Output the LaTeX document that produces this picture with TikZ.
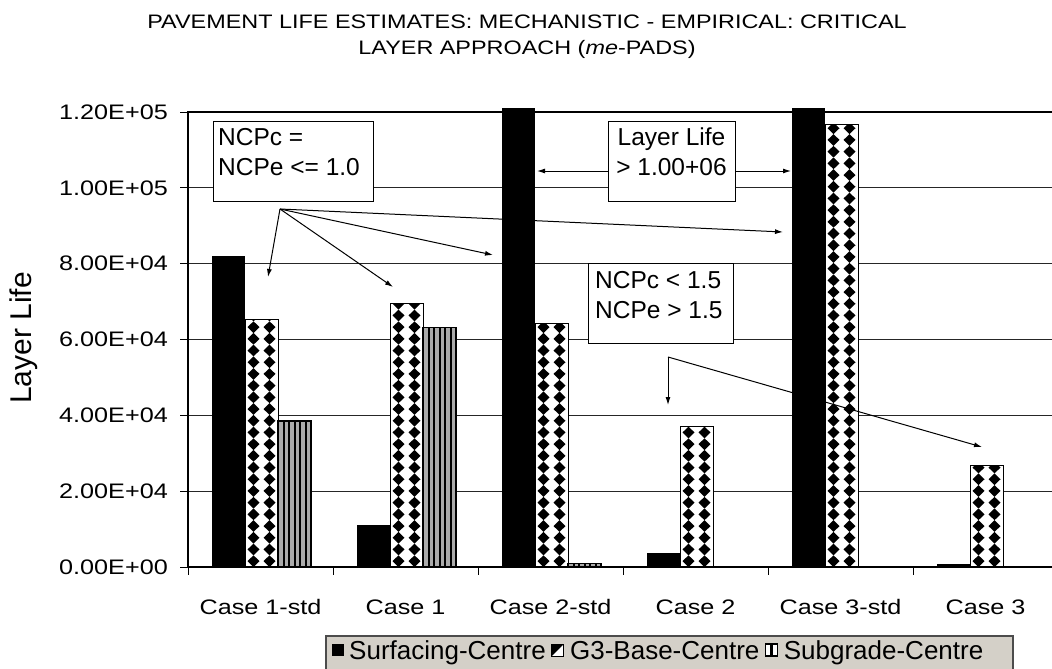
\documentclass[tikz,border=0pt]{standalone}
\usepackage{fontspec}
\newfontfamily\cfw[FakeStretch=1.2]{Liberation Sans}
\newfontfamily\cfn{Liberation Sans}
\usetikzlibrary{arrows.meta}
\definecolor{legbg}{RGB}{212,208,200}
\definecolor{stripegray}{RGB}{170,170,170}
\newcommand\blackbar[2]{\fill[black] (#1,#2) rectangle (#1+33,567);}
\newcommand\checkerbar[2]{%
  \fill[white] (#1,#2) rectangle (#1+33,567);
  \begin{scope}
    \clip (#1,#2) rectangle (#1+33,567);
    \foreach \j in {0,...,39}{\foreach \c in {8.5,24.5}{%
      \fill ({#1+\c},{567-11.7*\j}) -- ++(6,-5.85) -- ++(-6,-5.85) -- ++(-6,5.85) -- cycle;}}
  \end{scope}
  \draw[line width=1pt] (#1,#2) rectangle (#1+33,567);}
\newcommand\stripebar[2]{%
  \fill[stripegray] (#1,#2) rectangle (#1+33,567);
  \foreach \k in {1,...,5}{\draw[line width=2pt] ({#1+5.5*\k},#2) -- ({#1+5.5*\k},567);}
  \draw[line width=1.5pt] (#1,#2) rectangle (#1+33,567);}
\begin{document}
\begin{tikzpicture}[x=1pt,y=-1pt,
  title/.style={font=\cfw\fontsize{19.5}{23}\selectfont, inner sep=0pt},
  tick/.style={font=\cfw\fontsize{21}{24}\selectfont, inner sep=0pt},
  boxtxt/.style={font=\cfn\fontsize{24.5}{30}\selectfont, inner sep=0pt},
  legtxt/.style={font=\cfn\fontsize{26}{28}\selectfont, inner sep=0pt, anchor=base west},
  grid/.style={line width=1pt, black!85},
  box/.style={draw, fill=white, line width=1pt, inner sep=0pt},
  arr/.style={line width=1pt, -{Latex[length=8pt,width=5pt]}},
]
\useasboundingbox (0,0) rectangle (1052,669);
% title
\node[title] (t1) at (527,22) {PAVEMENT LIFE ESTIMATES: MECHANISTIC - EMPIRICAL: CRITICAL};
\node[title] (t2) at (527,49) {LAYER APPROACH (\textit{me}-PADS)};
% gridlines
\foreach \v in {1,...,5}{\draw[grid] (188,{567-75.833*\v}) -- (1052,{567-75.833*\v});}
\draw[line width=2pt] (187,112) -- (1052,112);
% bars
\blackbar{212}{256.1}\checkerbar{245}{319}\stripebar{278}{421}
\blackbar{357}{524.9}\checkerbar{390}{303.5}\stripebar{423}{327.4}
\blackbar{502}{108}\checkerbar{535}{323.2}\stripebar{568}{563.5}
\blackbar{647}{553.3}\checkerbar{680}{426.7}
\blackbar{792}{108}\checkerbar{825}{124.1}
\blackbar{937}{563.5}\checkerbar{970}{465}
% axes
\draw[line width=2pt] (188,111) -- (188,568);
\draw[line width=2pt] (187,567) -- (1052,567);
\foreach \v in {0,...,6}{\draw[line width=1pt] (180,{567-75.833*\v}) -- (188,{567-75.833*\v});}
\foreach \i in {0,...,6}{\draw[line width=1pt] ({188+145*\i},567) -- ({188+145*\i},575);}
% y tick labels
\node[tick, anchor=east] (y0) at (168,567) {0.00E+00};
\node[tick, anchor=east] (y1) at (168,491.2) {2.00E+04};
\node[tick, anchor=east] (y2) at (168,415.3) {4.00E+04};
\node[tick, anchor=east] (y3) at (168,339.5) {6.00E+04};
\node[tick, anchor=east] (y4) at (168,263.7) {8.00E+04};
\node[tick, anchor=east] (y5) at (168,187.8) {1.00E+05};
\node[tick, anchor=east] (y6) at (168,112) {1.20E+05};
\node[font=\cfn\fontsize{30}{34}\selectfont, inner sep=0pt, rotate=90] (ylab) at (24,338) {Layer Life};
% category labels
\node[tick] (c1) at (260.5,607) {Case 1-std};
\node[tick] (c2) at (405.5,607) {Case 1};
\node[tick] (c3) at (550.5,607) {Case 2-std};
\node[tick] (c4) at (695.5,607) {Case 2};
\node[tick] (c5) at (840.5,607) {Case 3-std};
\node[tick] (c6) at (985.5,607) {Case 3};
% annotation boxes
\node[box, minimum width=160pt, minimum height=80pt] (boxA) at (293,161) {};
\node[boxtxt, anchor=north west, align=left] (boxAt) at (218,128) {NCPc =\\NCPe <= 1.0};
\node[box, minimum width=127pt, minimum height=80pt] (boxB) at (671.5,161) {};
\node[boxtxt, anchor=north, align=center] (boxBt) at (671.5,128) {Layer Life\\> 1.00+06};
\node[box, minimum width=145pt, minimum height=80pt] (boxC) at (660.5,303) {};
\node[boxtxt, anchor=north west, align=left] (boxCt) at (595,271) {NCPc < 1.5\\NCPe > 1.5};
% arrows
\coordinate (a0) at (280,209);
\coordinate (a1) at (268,277);
\coordinate (a2) at (393,287);
\coordinate (a3) at (493,255);
\coordinate (a4) at (783,232);
\draw[arr] (a0) -- (a1);
\draw[arr] (a0) -- (a2);
\draw[arr] (a0) -- (a3);
\draw[arr] (a0) -- (a4);
\coordinate (b1) at (537,171);
\coordinate (b2) at (791,171);
\draw[arr] (boxB.west |- b1) -- (b1);
\draw[arr] (boxB.east |- b2) -- (b2);
\coordinate (c0) at (668,357);
\coordinate (ce1) at (668,405);
\coordinate (ce2) at (982,447);
\draw[arr] (c0) -- (ce1);
\draw[arr] (c0) -- (ce2);
% legend
\draw[fill=legbg, draw=black!70, line width=2pt] (326,636) rectangle (1013,680);
\fill[black] (332,644) rectangle (344,656);
\node[legtxt] (l1) at (349,659) {Surfacing-Centre};
\coordinate (s2) at ([xshift=6pt,yshift=3pt]l1.base east);
\fill[white] (s2) rectangle ++(12,-12);
\fill[black] (s2) ++(0,-12) -- ++(12,0) -- ++(-12,12) -- cycle;
\draw[line width=1pt] (s2) rectangle ++(12,-12);
\node[legtxt] (l2) at ([xshift=24pt]l1.base east) {G3-Base-Centre};
\coordinate (s3) at ([xshift=6pt,yshift=3pt]l2.base east);
\fill[white] (s3) rectangle ++(12,-12);
\draw[line width=2.5pt] ([xshift=6pt]s3) -- ++(0,-12);
\draw[line width=1.2pt] (s3) rectangle ++(12,-12);
\node[legtxt] (l3) at ([xshift=24pt]l2.base east) {Subgrade-Centre};
\end{tikzpicture}
\end{document}
